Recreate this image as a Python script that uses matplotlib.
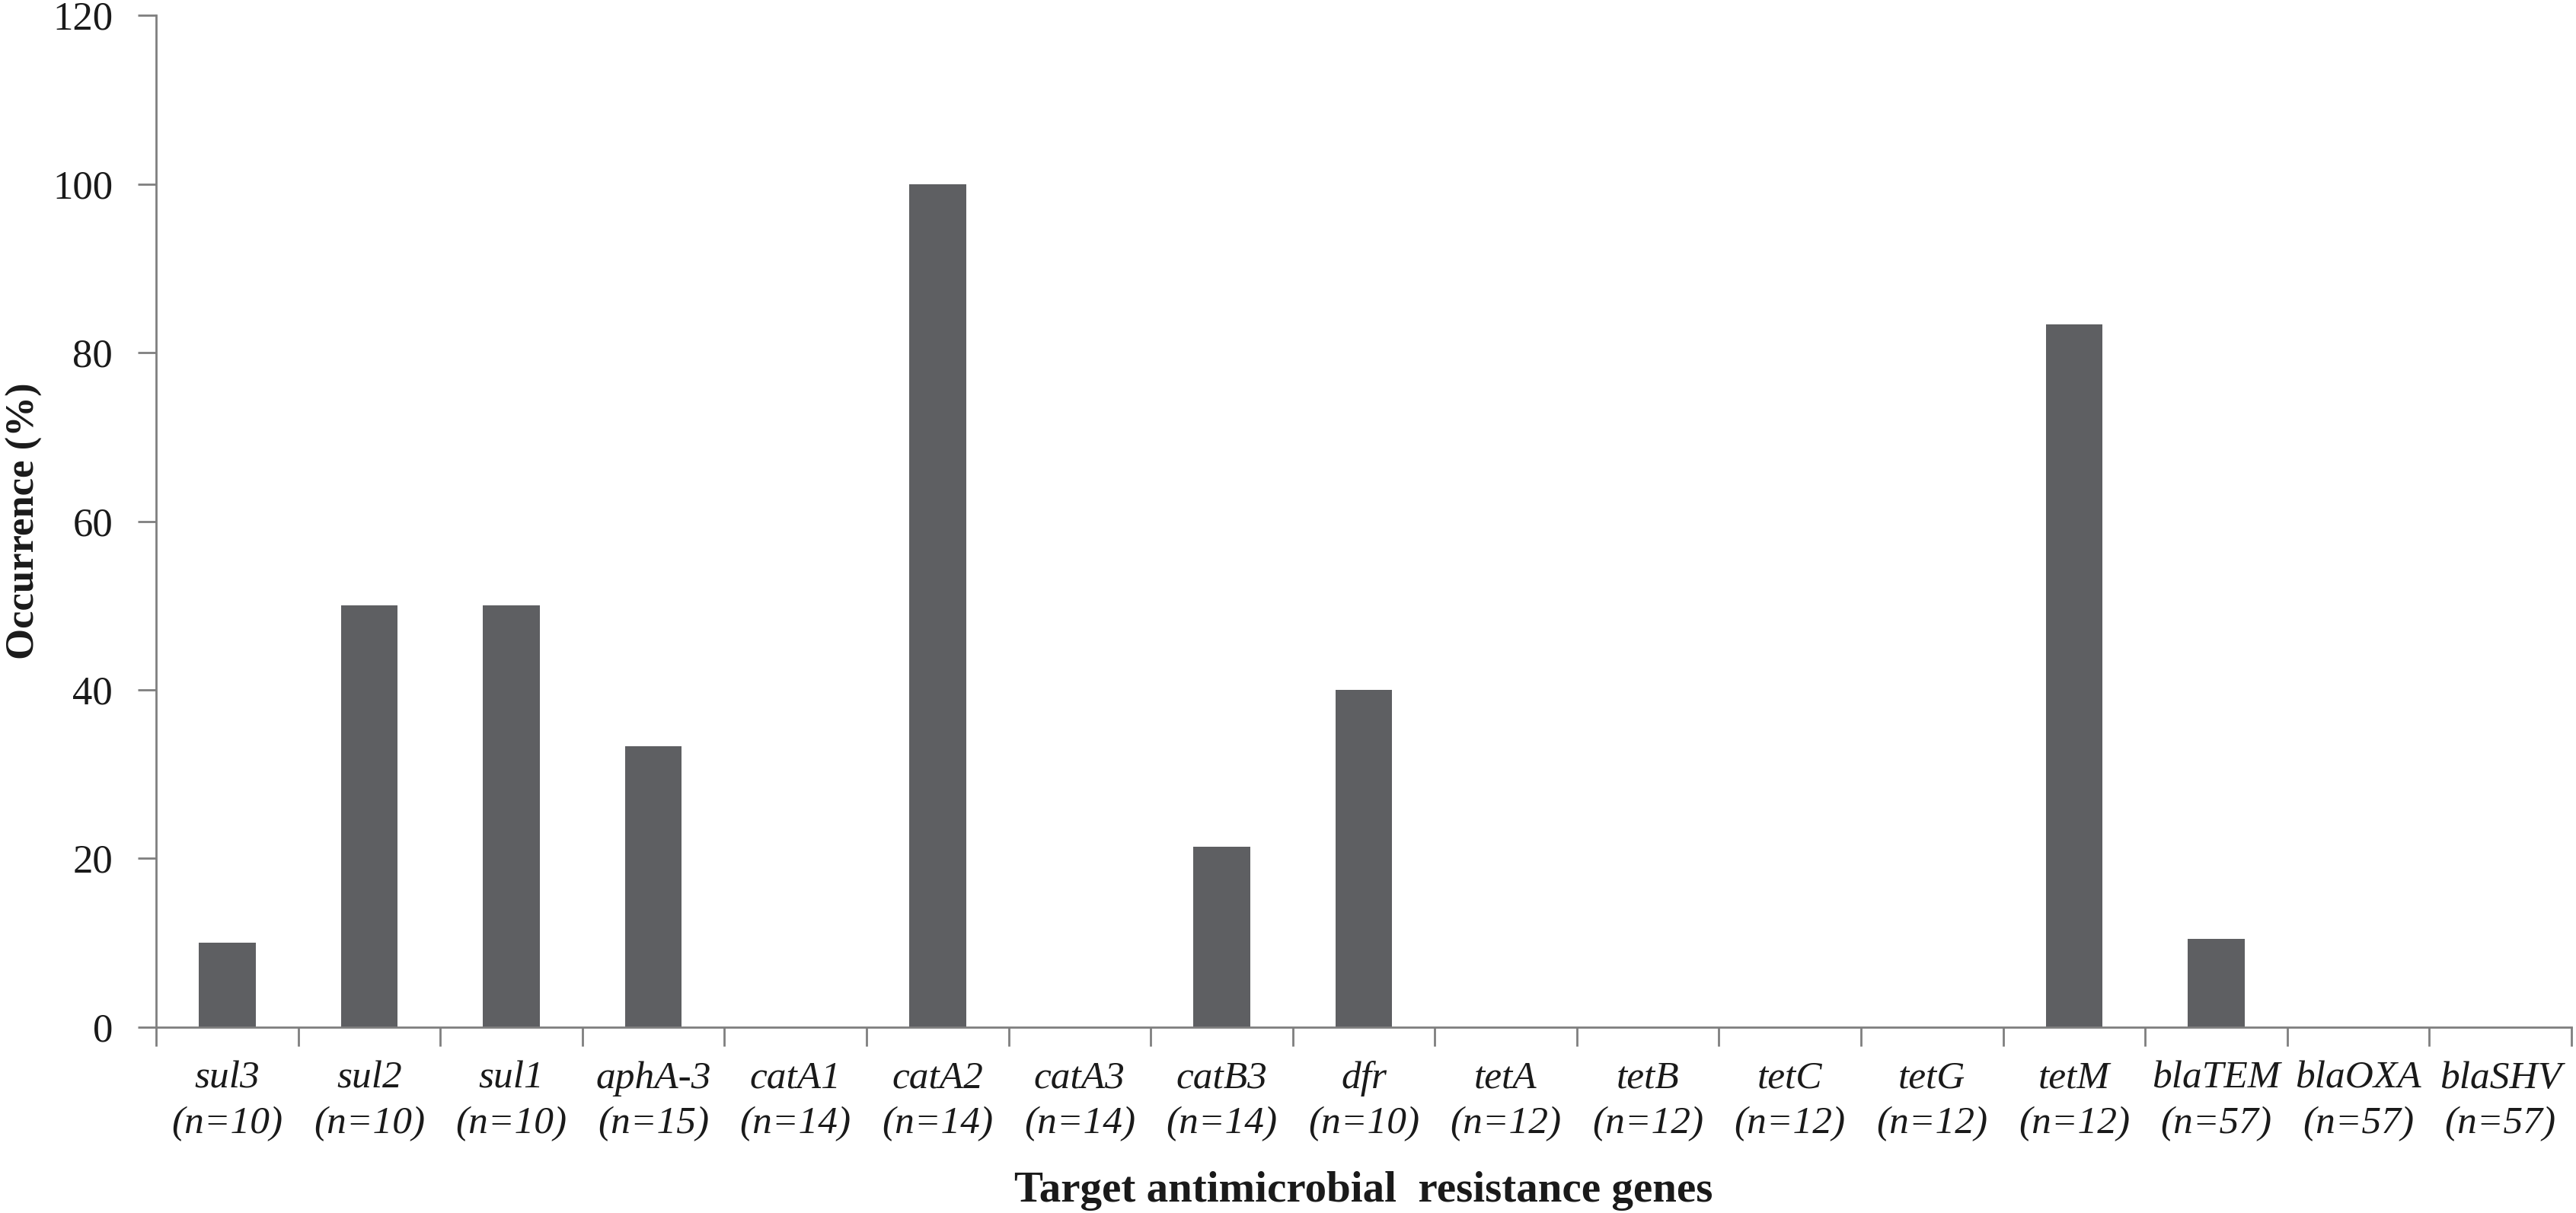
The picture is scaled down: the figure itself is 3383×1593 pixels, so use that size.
import matplotlib
matplotlib.use("Agg")
import numpy as np
import matplotlib.pyplot as plt

genes = ["sul3", "sul2", "sul1", "aphA-3", "catA1", "catA2", "catA3", "catB3",
         "dfr", "tetA", "tetB", "tetC", "tetG", "tetM", "blaTEM", "blaOXA", "blaSHV"]
n_isolates = [10, 10, 10, 15, 14, 14, 14, 14, 10, 12, 12, 12, 12, 12, 57, 57, 57]
occurrence = [10, 50, 50, 33.3, 0, 100, 0, 21.4, 40, 0, 0, 0, 0, 83.3, 10.5, 0, 0]

plt.rcParams['font.family'] = ['Liberation Serif', 'DejaVu Serif']

fig = plt.figure(figsize=(33.83, 15.93), dpi=100)
ax = fig.add_axes([0.0606, 0.1532, 0.9376, 0.8342])

x = np.arange(len(genes))
ax.bar(x, occurrence, width=0.4, color="#5e5f62", zorder=2)

ax.set_xlim(-0.5, len(genes) - 0.5)
ax.set_ylim(0, 120)
ax.set_yticks(np.arange(0, 121, 20))

# tick marks at category boundaries, labels at centres
ax.set_xticks(np.arange(len(genes) + 1) - 0.5)
ax.set_xticklabels([])
ax.set_xticks(x, minor=True)
ax.set_xticklabels([f"{g}\n(n={n})" for g, n in zip(genes, n_isolates)],
                   minor=True, fontstyle="italic", fontsize=37, linespacing=1.35,
                   color="#1a1a1a")
ax.tick_params(axis="x", which="minor", length=0, pad=32)
ax.tick_params(axis="x", which="major", length=18, width=2, color="#7f7f7f")
ax.tick_params(axis="y", length=17, width=2, color="#7f7f7f", labelsize=38,
               pad=24, labelcolor="#1a1a1a")

for side in ("top", "right"):
    ax.spines[side].set_visible(False)
for side in ("left", "bottom"):
    ax.spines[side].set_color("#7f7f7f")
    ax.spines[side].set_linewidth(2)

ax.set_ylabel("Occurrence (%)", fontsize=38, fontweight="bold", color="#1a1a1a")
ax.yaxis.set_label_coords(-0.047, 0.5)
ax.set_xlabel("Target antimicrobial  resistance genes", fontsize=41,
              fontweight="bold", color="#1a1a1a")
ax.xaxis.set_label_coords(0.5, -0.142)

fig.savefig("out.png", dpi=100, facecolor="white")
